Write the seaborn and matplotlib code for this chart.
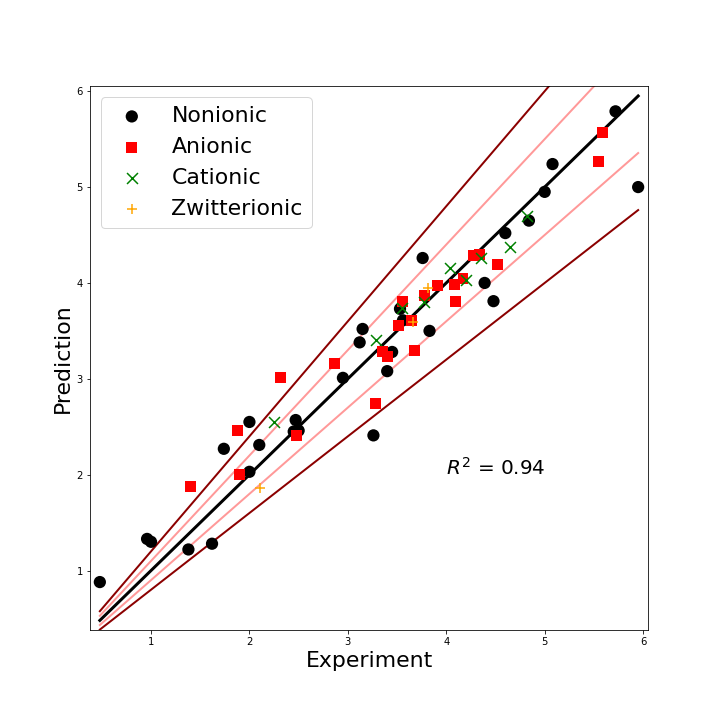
import numpy as np
import pandas as pd
import matplotlib
matplotlib.use("Agg")
import matplotlib.pyplot as plt
import seaborn as sns

# ---- data ----
non_x = [0.48, 0.96, 1.00, 1.38, 1.62, 1.74, 2.00, 2.00, 2.10, 2.45, 2.47, 2.50,
         2.95, 3.12, 3.15, 3.26, 3.40, 3.45, 3.53, 3.56, 3.76, 3.83, 4.39, 4.48,
         4.60, 4.84, 5.00, 5.08, 5.72, 5.95]
non_y = [0.88, 1.33, 1.30, 1.22, 1.28, 2.27, 2.55, 2.03, 2.31, 2.45, 2.57, 2.46,
         3.01, 3.38, 3.52, 2.41, 3.08, 3.28, 3.73, 3.61, 4.26, 3.50, 4.00, 3.81,
         4.52, 4.65, 4.95, 5.24, 5.79, 5.00]

ani_x = [1.40, 1.88, 1.90, 2.32, 2.48, 2.86, 3.28, 3.35, 3.40, 3.51, 3.56, 3.65,
         3.68, 3.78, 3.91, 4.08, 4.09, 4.17, 4.28, 4.34, 4.52, 5.55, 5.59]
ani_y = [1.88, 2.46, 2.00, 3.01, 2.41, 3.16, 2.74, 3.28, 3.23, 3.56, 3.81, 3.61,
         3.30, 3.87, 3.97, 3.98, 3.81, 4.05, 4.29, 4.30, 4.19, 5.27, 5.57]

cat_x = [2.25, 3.29, 3.55, 3.77, 4.04, 4.20, 4.35, 4.65, 4.82]
cat_y = [2.55, 3.40, 3.74, 3.80, 4.16, 4.03, 4.26, 4.38, 4.70]

zwi_x = [2.11, 3.66, 3.81]
zwi_y = [1.86, 3.59, 3.95]

groups = ["Nonionic", "Anionic", "Cationic", "Zwitterionic"]
band_factors = [1.2, 0.8, 1.1, 0.9]
r2_value = 0.94

# ---- figure ----
plt.rcParams['font.family'] = ['DejaVu Sans']
fig, ax = plt.subplots(figsize=(10, 10), dpi=72)
fig.subplots_adjust(left=0.125, right=0.9, bottom=0.125, top=0.88)

all_x = np.array(non_x + ani_x + cat_x + zwi_x)
line_x = np.array([all_x.min(), all_x.max()])

colors_band = {1.2: "#8b0000", 0.8: "#8b0000", 1.1: "#ff9999", 0.9: "#ff9999"}
for f in band_factors:
    ax.plot(line_x, f * line_x, color=colors_band[f], lw=2, zorder=1)
ax.plot(line_x, line_x, color="black", lw=3, zorder=2)

styles = {
    "Nonionic": dict(marker="o", color="black", s=150),
    "Anionic": dict(marker="s", color="red", s=120),
    "Cationic": dict(marker="x", color="green", s=120),
    "Zwitterionic": dict(marker="+", color="orange", s=110),
}
data = {
    "Nonionic": (non_x, non_y),
    "Anionic": (ani_x, ani_y),
    "Cationic": (cat_x, cat_y),
    "Zwitterionic": (zwi_x, zwi_y),
}
for g in groups:
    xs, ys = data[g]
    st = styles[g]
    df = pd.DataFrame({"Experiment": xs, "Prediction": ys})
    if st["marker"] in ("o", "s"):
        sns.scatterplot(data=df, x="Experiment", y="Prediction", ax=ax,
                        marker=st["marker"], color=st["color"], s=st["s"],
                        edgecolor="none", linewidth=0, label=g, zorder=3)
    else:
        sns.scatterplot(data=df, x="Experiment", y="Prediction", ax=ax,
                        marker=st["marker"], color=st["color"], s=st["s"],
                        linewidth=1.5, label=g, zorder=3)

ax.set_xlim(0.38, 6.05)
ax.set_ylim(0.38, 6.05)
ax.set_xlabel("Experiment", fontsize=22)
ax.set_ylabel("Prediction", fontsize=22)
ax.tick_params(labelsize=10)
ax.text(4.0, 2.0, f"$R^2$ = {r2_value:.2f}", fontsize=20)
ax.legend(loc="upper left", fontsize=22)

fig.savefig("out.png", dpi=72)
